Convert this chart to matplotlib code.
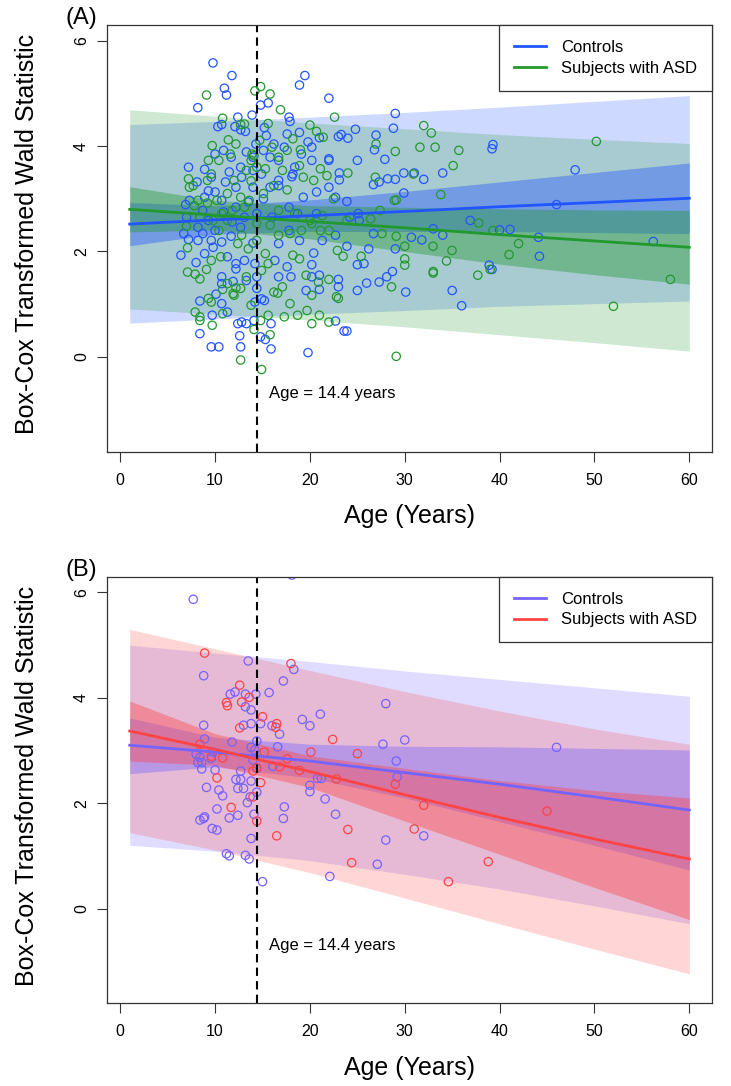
import matplotlib
matplotlib.use("Agg")
import matplotlib.pyplot as plt
from matplotlib.lines import Line2D

plt.rcParams['font.family'] = ['Liberation Sans', 'DejaVu Sans']

# ---------------- panel A data ----------------
a_ctrl_x = [9.78, 11.78, 10.98, 11.2, 8.18, 19.47, 18.9, 22.0, 14.8, 15.6, 29.0, 13.9, 12.4, 17.8, 17.9,
            10.3, 10.7, 12.1, 12.7, 13.2, 24.8, 28.8, 15.2, 15.4, 18.9, 21.0, 23.0, 23.3, 24.0, 26.97,
            39.3, 39.2, 14.3, 19.8, 20.2, 26.8, 47.96, 27.9, 22.0, 22.0, 25.0, 7.2, 8.9, 9.6, 11.5,
            12.8, 16.7, 18.4, 18.1, 23.1, 28.2, 29.9, 31.0, 32.0, 34.0, 29.0, 27.3, 26.7, 23.1, 29.9,
            23.9, 46.0, 8.1, 9.3, 10.0, 10.7, 6.9, 8.7, 9.3, 7.0, 6.4, 7.2, 8.2, 8.0, 8.4,
            8.4, 9.6, 10.4, 9.7, 10.1, 10.7, 11.3, 10.7, 11.9, 12.4, 12.8, 12.6, 12.7, 13.3, 14.1,
            14.2, 14.4, 14.9, 15.2, 14.8, 15.3, 15.9, 15.9, 19.8, 22.7, 23.6, 23.9, 25.0, 25.0, 25.7,
            25.98, 27.3, 28.1, 28.7, 30.1, 26.2, 23.9, 20.4, 20.2, 21.0, 21.0, 23.0, 23.0, 35.0, 36.0,
            38.9, 39.2, 44.2, 44.1, 41.1, 40.0, 36.9, 34.0, 33.0, 31.8, 30.7, 29.0, 26.7, 25.2, 56.2,
            17.8, 18.9, 16.7, 14.0, 12.7, 11.7, 10.7, 9.8, 8.9, 11.3, 12.2, 13.1, 14.2, 16.3, 17.6,
            18.0, 19.6, 20.2, 16.7, 10.7, 12.2, 13.3, 14.4, 10.9, 12.2, 13.5, 15.1, 15.8, 16.7, 17.8,
            19.3, 20.7, 22.0, 22.7, 20.7, 18.7, 16.0, 14.4, 13.1, 11.8, 10.0, 8.7, 16.7, 15.8, 15.1,
            16.2, 17.3, 14.0, 13.3, 11.7, 10.9, 10.0, 12.7, 14.0, 14.9, 20.2, 19.1, 17.6, 18.2, 14.0,
            12.2, 11.1, 8.9, 7.3, 6.7, 8.2, 9.6, 22.7, 21.3, 24.2, 25.1]
a_ctrl_y = [5.58, 5.34, 5.10, 4.97, 4.73, 5.34, 5.16, 4.91, 4.78, 4.82, 4.62, 4.59, 4.55, 4.55, 4.47,
            4.37, 4.41, 4.37, 4.31, 4.28, 4.32, 4.34, 4.35, 4.20, 4.26, 4.16, 4.18, 4.22, 4.15, 4.21,
            4.03, 3.95, 4.04, 4.08, 3.98, 3.93, 3.55, 3.75, 3.76, 3.73, 3.73, 3.60, 3.56, 3.41, 3.51,
            3.41, 3.35, 3.60, 3.42, 3.49, 3.38, 3.49, 3.49, 3.37, 3.49, 3.37, 3.32, 3.27, 3.36, 3.11,
            2.95, 2.89, 3.32, 3.15, 3.13, 2.97, 2.89, 2.78, 2.59, 2.65, 1.93, 2.23, 2.21, 1.79, 1.06,
            0.44, 0.19, 0.19, 0.79, 1.19, 1.01, 0.85, 1.52, 1.43, 0.63, 0.66, 0.40, 0.19, 0.63, 0.69,
            1.04, 1.30, 1.10, 1.07, 0.38, 0.33, 0.15, 0.63, 0.08, 0.68, 0.49, 0.49, 1.26, 1.75, 1.77,
            1.40, 1.42, 1.52, 1.62, 1.23, 2.05, 2.10, 1.97, 1.75, 1.55, 1.28, 1.47, 1.33, 1.26, 0.97,
            1.74, 1.66, 1.91, 2.27, 2.42, 2.41, 2.59, 2.31, 2.43, 2.22, 2.27, 2.05, 2.34, 2.59, 2.19,
            2.40, 2.21, 2.15, 2.16, 2.46, 2.29, 2.18, 2.08, 1.96, 1.90, 1.77, 1.83, 1.77, 1.83, 1.71,
            1.52, 1.26, 1.52, 1.52, 1.39, 1.67, 1.45, 1.52, 2.75, 2.84, 2.94, 3.00, 3.22, 3.25, 2.84,
            3.03, 3.13, 3.22, 3.03, 2.72, 2.72, 2.65, 2.72, 2.65, 2.56, 2.40, 2.34, 3.73, 3.79, 3.92,
            4.04, 3.98, 3.79, 3.89, 3.79, 3.92, 3.85, 3.60, 3.54, 3.47, 3.73, 3.85, 4.23, 3.47, 3.22,
            3.22, 3.32, 3.03, 2.97, 2.34, 2.46, 2.21, 2.31, 2.21, 2.65, 2.72]

a_asd_x = [9.1, 14.2, 14.8, 15.8, 16.9, 10.8, 22.6, 32.0, 32.8, 50.2, 31.6, 33.2, 35.7, 35.1, 33.8,
           26.97, 29.0, 20.0, 21.4, 20.7, 19.0, 15.6, 12.7, 13.1, 9.7, 11.4, 13.9, 14.1, 21.1, 21.8,
           24.0, 18.9, 26.9, 30.9, 28.9, 29.1, 27.4, 26.4, 23.9, 22.5, 21.3, 20.4, 19.3, 17.6, 16.2,
           15.1, 13.8, 13.3, 12.0, 9.6, 7.2, 7.7, 8.2, 9.2, 6.98, 7.1, 7.1, 7.9, 8.4, 9.1,
           9.3, 9.6, 9.7, 8.4, 8.4, 7.9, 10.8, 10.8, 11.3, 12.0, 12.2, 12.7, 14.9, 13.8, 14.1,
           15.6, 15.8, 14.8, 17.3, 17.9, 18.7, 19.7, 20.2, 22.0, 21.0, 29.1, 52.0, 58.0, 41.0, 42.0,
           39.3, 37.8, 34.98, 34.4, 37.7, 39.0, 33.0, 33.0, 32.98, 30.0, 30.0, 30.0, 29.1, 28.6, 27.6,
           25.4, 23.5, 22.9, 23.0, 22.8, 22.0, 20.9, 20.2, 19.6, 18.9, 18.2, 17.1, 16.6, 16.2, 15.6,
           14.9, 13.3, 12.7, 11.9, 10.6, 9.6, 10.4, 11.3, 12.4, 12.8, 13.5, 14.4, 15.3, 16.7, 17.9,
           19.1, 20.2, 21.1, 22.0, 20.0, 18.4, 16.7, 15.8, 14.4, 13.1, 11.8, 10.7, 9.8, 8.4, 7.8,
           7.3, 9.2, 10.2, 11.3, 12.7, 13.6, 13.8, 14.4, 15.3, 17.1, 17.6, 16.7, 16.0, 18.2, 14.7,
           12.2, 11.6, 10.4, 9.3]
a_asd_y = [4.97, 5.05, 5.13, 4.99, 4.69, 4.53, 4.55, 4.39, 4.25, 4.09, 3.98, 3.98, 3.92, 3.63, 3.08,
           4.04, 3.90, 4.40, 4.17, 4.28, 3.93, 4.43, 4.41, 4.42, 4.01, 4.12, 3.85, 3.82, 3.57, 3.44,
           3.49, 3.63, 3.41, 3.47, 2.97, 2.98, 2.78, 2.62, 2.59, 3.00, 2.68, 3.35, 3.41, 3.17, 3.25,
           3.10, 3.34, 3.54, 3.35, 3.47, 3.38, 3.25, 2.97, 2.92, 2.48, 2.07, 1.61, 1.57, 1.48, 1.66,
           1.11, 1.04, 0.60, 0.76, 0.69, 0.85, 0.82, 1.28, 1.39, 1.17, 1.31, -0.06, -0.24, 0.98, 0.52,
           0.79, 0.42, 0.69, 0.76, 1.01, 0.79, 0.88, 0.63, 0.66, 0.79, 0.01, 0.96, 1.47, 1.94, 2.15,
           2.40, 2.54, 2.02, 1.82, 1.55, 1.66, 1.59, 1.62, 2.10, 1.86, 1.74, 2.10, 2.29, 1.33, 2.34,
           1.91, 1.91, 2.02, 1.11, 1.14, 1.47, 1.42, 1.17, 1.55, 1.86, 1.93, 1.33, 1.21, 1.23, 1.77,
           1.64, 1.52, 1.30, 1.20, 1.90, 1.83, 2.40, 2.59, 2.15, 2.31, 2.05, 2.21, 1.96, 2.31, 2.34,
           2.40, 2.53, 2.40, 2.40, 2.59, 2.72, 2.78, 2.50, 2.53, 2.84, 2.78, 2.72, 2.59, 2.65, 2.87,
           3.22, 3.35, 2.97, 3.10, 3.03, 2.97, 3.73, 3.60, 3.57, 3.54, 3.92, 3.79, 3.98, 4.14, 4.11,
           4.04, 3.85, 3.73, 3.73]

band_age = [1, 10, 20, 30, 40, 50, 60]
a_ctrl_fit = [2.52, 2.60, 2.68, 2.76, 2.85, 2.93, 3.01]
a_ctrl_pi_hi = [4.41, 4.47, 4.55, 4.64, 4.74, 4.85, 4.96]
a_ctrl_pi_lo = [0.64, 0.72, 0.81, 0.88, 0.96, 1.01, 1.06]
a_ctrl_ci_hi = [2.93, 2.87, 2.98, 3.14, 3.32, 3.50, 3.68]
a_ctrl_ci_lo = [2.11, 2.33, 2.38, 2.38, 2.38, 2.36, 2.34]
a_asd_fit = [2.80, 2.69, 2.57, 2.45, 2.32, 2.20, 2.08]
a_asd_pi_hi = [4.69, 4.57, 4.44, 4.33, 4.22, 4.13, 4.05]
a_asd_pi_lo = [0.91, 0.81, 0.70, 0.57, 0.42, 0.27, 0.11]
a_asd_ci_hi = [3.23, 2.97, 2.87, 2.84, 2.81, 2.79, 2.78]
a_asd_ci_lo = [2.37, 2.41, 2.24, 2.00, 1.76, 1.56, 1.38]

# ---------------- panel B data ----------------
b_ctrl_x = [7.7, 18.1, 8.8, 13.5, 18.3, 17.2, 15.7, 11.6, 12.1, 13.2, 14.3, 13.2, 13.8, 28.0, 19.2,
            21.1, 20.0, 16.0, 14.8, 13.8, 13.0, 8.8, 8.9, 11.8, 14.4, 16.8, 16.6, 30.0, 27.7, 46.0,
            13.8, 14.2, 8.0, 8.4, 8.2, 8.6, 8.6, 9.6, 9.8, 10.0, 12.7, 14.0, 14.4, 16.1, 29.1,
            29.2, 20.0, 20.0, 20.8, 21.2, 21.6, 12.2, 12.7, 13.8, 9.1, 10.4, 10.8, 12.4, 13.0, 13.4,
            13.7, 14.4, 17.3, 10.2, 11.5, 12.4, 14.1, 17.2, 22.7, 8.4, 8.8, 8.9, 9.7, 10.2, 13.8,
            28.0, 32.0, 11.2, 11.5, 13.2, 13.6, 15.0, 22.1, 27.1]
b_ctrl_y = [5.87, 6.33, 4.42, 4.70, 4.54, 4.32, 4.10, 4.07, 4.11, 4.07, 4.07, 3.83, 3.77, 3.89, 3.59,
            3.69, 3.47, 3.47, 3.51, 3.51, 3.48, 3.48, 3.22, 3.16, 3.18, 3.31, 3.07, 3.20, 3.12, 3.06,
            3.06, 3.01, 2.93, 2.87, 2.77, 2.77, 2.65, 2.85, 2.97, 2.63, 2.61, 2.82, 2.66, 2.70, 2.80,
            2.50, 2.34, 2.22, 2.47, 2.47, 2.08, 2.45, 2.45, 2.42, 2.30, 2.25, 2.14, 2.28, 2.28, 2.01,
            2.12, 2.21, 1.93, 1.89, 1.72, 1.77, 1.79, 1.71, 1.79, 1.68, 1.71, 1.74, 1.52, 1.49, 1.33,
            1.30, 1.38, 1.04, 1.00, 1.01, 0.94, 0.51, 0.61, 0.84]

b_asd_x = [8.9, 18.0, 12.6, 11.2, 11.3, 12.8, 13.6, 12.6, 15.0, 16.5, 16.4, 22.4, 20.1, 25.0, 15.2,
           17.6, 16.8, 14.0, 14.4, 18.9, 10.8, 8.4, 9.6, 10.2, 14.8, 22.8, 29.0, 32.0, 11.7, 14.0,
           14.4, 16.5, 24.0, 31.0, 45.0, 24.4, 38.8, 34.6]
b_asd_y = [4.85, 4.65, 4.24, 3.91, 3.85, 3.92, 4.01, 3.43, 3.64, 3.51, 3.44, 3.21, 2.97, 2.94, 2.97,
           2.84, 2.69, 2.61, 2.67, 2.62, 2.86, 3.12, 2.89, 2.48, 2.39, 2.46, 2.36, 1.96, 1.92, 2.12,
           1.66, 1.38, 1.50, 1.51, 1.85, 0.87, 0.89, 0.51]

b_ctrl_fit = [3.10, 2.97, 2.80, 2.58, 2.36, 2.12, 1.87]
b_ctrl_pi_hi = [5.00, 4.85, 4.69, 4.51, 4.35, 4.19, 4.03]
b_ctrl_pi_lo = [1.20, 1.09, 0.91, 0.65, 0.37, 0.05, -0.29]
b_ctrl_ci_hi = [3.62, 3.25, 3.12, 3.08, 3.07, 3.04, 3.01]
b_ctrl_ci_lo = [2.56, 2.69, 2.48, 2.10, 1.65, 1.20, 0.73]
b_asd_fit = [3.37, 3.02, 2.60, 2.16, 1.73, 1.32, 0.94]
b_asd_pi_hi = [5.30, 4.93, 4.52, 4.12, 3.75, 3.41, 3.12]
b_asd_pi_lo = [1.44, 1.11, 0.68, 0.20, -0.29, -0.77, -1.24]
b_asd_ci_hi = [3.94, 3.32, 2.90, 2.66, 2.43, 2.24, 2.10]
b_asd_ci_lo = [2.80, 2.72, 2.30, 1.66, 1.03, 0.40, -0.21]

cut_age = 14.4
labels = ['Controls', 'Subjects with ASD']

fig = plt.figure(figsize=(7.31, 10.86), dpi=100)
ax_a = fig.add_axes([0.1468, 0.5841, 0.8268, 0.3929])
ax_b = fig.add_axes([0.1468, 0.0761, 0.8268, 0.3929])


def draw_panel(ax, c1, c2, ctrl, asd):
    (cx, cy, cfit, cpih, cpil, ccih, ccil) = ctrl
    (sx, sy, sfit, spih, spil, scih, scil) = asd
    # prediction bands, then confidence bands
    ax.fill_between(band_age, cpil, cpih, color=c1, alpha=0.22, lw=0)
    ax.fill_between(band_age, spil, spih, color=c2, alpha=0.22, lw=0)
    ax.fill_between(band_age, ccil, ccih, color=c1, alpha=0.4, lw=0)
    ax.fill_between(band_age, scil, scih, color=c2, alpha=0.4, lw=0)
    ax.scatter(cx, cy, s=36, facecolors='none', edgecolors=c1, linewidths=0.9)
    ax.scatter(sx, sy, s=36, facecolors='none', edgecolors=c2, linewidths=0.9)
    ax.plot(band_age, cfit, color=c1, lw=2)
    ax.plot(band_age, sfit, color=c2, lw=2)
    ax.axvline(cut_age, color='black', lw=1.5, ls=(0, (4, 2.5)))
    ax.text(cut_age + 1.3, -0.7, 'Age = 14.4 years', fontsize=12, va='center', ha='left')

    ax.set_xlim(-1.36, 62.36)
    ax.set_ylim(-1.8, 6.3)
    ax.set_xticks([0, 10, 20, 30, 40, 50, 60])
    ax.set_yticks([0, 2, 4, 6])
    ax.tick_params(axis='both', direction='out', length=7.2, width=0.8, labelsize=11.5, color='#333333')
    ax.tick_params(axis='x', pad=8)
    ax.tick_params(axis='y', pad=6)
    for lab in ax.get_yticklabels():
        lab.set_rotation(90)
        lab.set_va('center')
    for sp in ax.spines.values():
        sp.set_linewidth(0.9)
        sp.set_color('#333333')

    ax.set_xlabel('Age (Years)', fontsize=18)
    ax.set_ylabel('Box-Cox Transformed Wald Statistic', fontsize=18)
    ax.xaxis.set_label_coords(0.5, -0.151)
    ax.xaxis.label.set_va('center')
    ax.yaxis.set_label_coords(-0.133, 0.51)
    ax.yaxis.label.set_va('center')

    handles = [Line2D([], [], color=c1, lw=2), Line2D([], [], color=c2, lw=2)]
    leg = ax.legend(handles, labels, loc='upper right', bbox_to_anchor=(1, 1), borderaxespad=0,
                    fontsize=12, frameon=True, fancybox=False, framealpha=1, edgecolor='#333333',
                    handlelength=1.9, handletextpad=0.9, labelspacing=0.35, borderpad=0.9)
    leg.get_frame().set_linewidth(0.9)
    leg.set_zorder(5)


draw_panel(ax_a, '#2255FF', '#22992E',
           (a_ctrl_x, a_ctrl_y, a_ctrl_fit, a_ctrl_pi_hi, a_ctrl_pi_lo, a_ctrl_ci_hi, a_ctrl_ci_lo),
           (a_asd_x, a_asd_y, a_asd_fit, a_asd_pi_hi, a_asd_pi_lo, a_asd_ci_hi, a_asd_ci_lo))
draw_panel(ax_b, '#7463FF', '#FF4444',
           (b_ctrl_x, b_ctrl_y, b_ctrl_fit, b_ctrl_pi_hi, b_ctrl_pi_lo, b_ctrl_ci_hi, b_ctrl_ci_lo),
           (b_asd_x, b_asd_y, b_asd_fit, b_asd_pi_hi, b_asd_pi_lo, b_asd_ci_hi, b_asd_ci_lo))

fig.text(0.111, 0.9834, '(A)', fontsize=17, ha='center', va='center')
fig.text(0.111, 0.4754, '(B)', fontsize=17, ha='center', va='center')

fig.savefig('out.png', dpi=100)
